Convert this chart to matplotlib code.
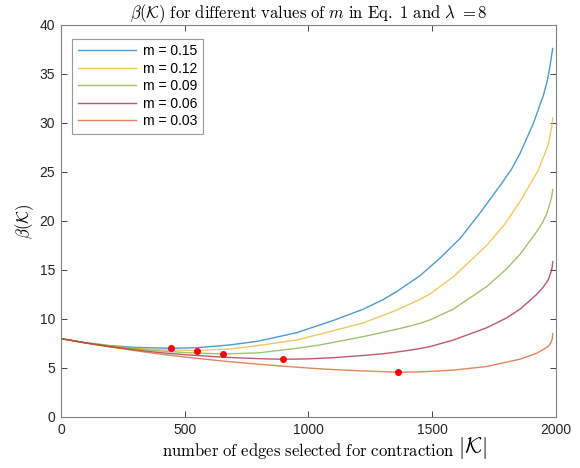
import numpy as np
import matplotlib
matplotlib.use("Agg")
import matplotlib.pyplot as plt

plt.rcParams['mathtext.fontset'] = 'cm'
plt.rcParams['font.family'] = ['Liberation Sans', 'DejaVu Sans']

# --- data: beta(K) per curve, K = number of contracted edges ---
m_labels = ["m = 0.15", "m = 0.12", "m = 0.09", "m = 0.06", "m = 0.03"]

k_015 = [0, 100, 200, 300, 443, 550, 683, 800, 952, 1046, 1100, 1222, 1300, 1356,
         1450, 1531, 1612, 1693, 1774, 1821, 1855, 1908, 1949, 1965, 1976, 1987]
b_015 = [8.0, 7.58, 7.28, 7.1, 7.01, 7.07, 7.35, 7.75, 8.6, 9.39, 9.85, 11.0, 11.95, 12.79,
         14.4, 16.2, 18.2, 20.8, 23.6, 25.3, 26.9, 29.9, 32.8, 34.3, 35.8, 37.6]

k_012 = [0, 100, 200, 300, 400, 548, 683, 800, 952, 1046, 1222, 1356, 1450, 1491,
         1585, 1720, 1794, 1855, 1929, 1969, 1983, 1987]
b_012 = [8.0, 7.57, 7.24, 7.0, 6.86, 6.78, 6.94, 7.3, 7.86, 8.45, 9.6, 10.9, 12.0, 12.55,
         14.3, 17.5, 19.7, 22.0, 25.2, 27.8, 29.6, 30.5]

k_009 = [0, 100, 200, 300, 400, 500, 656, 800, 952, 1046, 1222, 1356, 1410, 1450,
         1491, 1585, 1720, 1800, 1855, 1922, 1945, 1962, 1975, 1983, 1987]
b_009 = [8.0, 7.56, 7.2, 6.94, 6.74, 6.58, 6.43, 6.55, 7.0, 7.35, 8.2, 8.95, 9.28, 9.55,
         9.9, 11.0, 13.3, 15.1, 16.6, 18.9, 19.8, 20.7, 21.7, 22.5, 23.2]

k_006 = [0, 100, 200, 300, 400, 500, 600, 683, 800, 896, 1000, 1100, 1222, 1300,
         1356, 1410, 1450, 1491, 1585, 1720, 1800, 1855, 1922, 1950, 1969, 1980, 1985, 1987]
b_006 = [8.0, 7.55, 7.16, 6.84, 6.57, 6.36, 6.19, 6.07, 5.95, 5.89, 5.93, 6.05, 6.28, 6.45,
         6.62, 6.82, 6.98, 7.18, 7.85, 9.1, 10.1, 11.0, 12.5, 13.3, 14.0, 14.8, 15.3, 15.85]

k_003 = [0, 100, 200, 300, 400, 500, 600, 683, 800, 900, 1026, 1100, 1222, 1360,
         1450, 1585, 1720, 1855, 1922, 1969, 1980, 1985, 1987]
b_003 = [8.0, 7.55, 7.15, 6.77, 6.42, 6.12, 5.85, 5.64, 5.38, 5.18, 4.95, 4.84, 4.7, 4.57,
         4.6, 4.78, 5.15, 5.9, 6.5, 7.2, 7.6, 7.95, 8.5]

K_ALL = [k_015, k_012, k_009, k_006, k_003]
B_ALL = [b_015, b_012, b_009, b_006, b_003]
COLORS = ['#0072BD', '#EDB120', '#77AC30', '#A2142F', '#D95319']
AX_COLOR = '#262626'

fig = plt.figure(figsize=(5.8, 4.68), dpi=100)
ax = fig.add_axes([0.105, 0.109, 0.8535, 0.8376])

for k, b, lab, col in zip(K_ALL, B_ALL, m_labels, COLORS):
    ax.plot(k, b, color=col, lw=1.0, alpha=0.7, label=lab)

# mark the minimum of each curve
for k, b in zip(K_ALL, B_ALL):
    i = int(np.argmin(b))
    ax.plot(k[i], b[i], 'o', color='red', ms=4, mec='red', zorder=5)

ax.set_xlim(0, 2000)
ax.set_ylim(0, 40)
ax.set_xticks([0, 500, 1000, 1500, 2000])
ax.set_yticks(range(0, 41, 5))
ax.tick_params(direction='in', top=True, right=True, length=4, width=0.6,
               colors=AX_COLOR, labelsize=10, pad=4)
for sp in ax.spines.values():
    sp.set_color('#808080')
    sp.set_linewidth(0.8)

ax.set_title(r"$\beta(\mathcal{K})\ \mathrm{for\ different\ values\ of}\ m\ "
             r"\mathrm{in\ Eq.\ 1\ and}\ \lambda\ \mathrm{=}8$",
             fontsize=12, pad=5)
ax.set_xlabel(r"$\mathrm{number\ of\ edges\ selected\ for\ contraction}$",
              fontsize=12, labelpad=3)
# the |K| part is set a size larger, right after the label
ax.annotate(r"$\,|\mathcal{K}|$", xy=(1, 0), xycoords=ax.xaxis.label,
            ha='left', va='bottom', fontsize=16)
ax.set_ylabel(r"$\beta(\mathcal{K})$", fontsize=12, labelpad=3)

leg = ax.legend(loc='upper left', bbox_to_anchor=(0.023, 0.965), fontsize=10,
                frameon=True, fancybox=False, handlelength=4.2, borderpad=0.4,
                labelspacing=0.25, handletextpad=0.5, borderaxespad=0)
leg.get_frame().set_edgecolor('#808080')
leg.get_frame().set_linewidth(0.8)

fig.savefig('out.png', dpi=100)
